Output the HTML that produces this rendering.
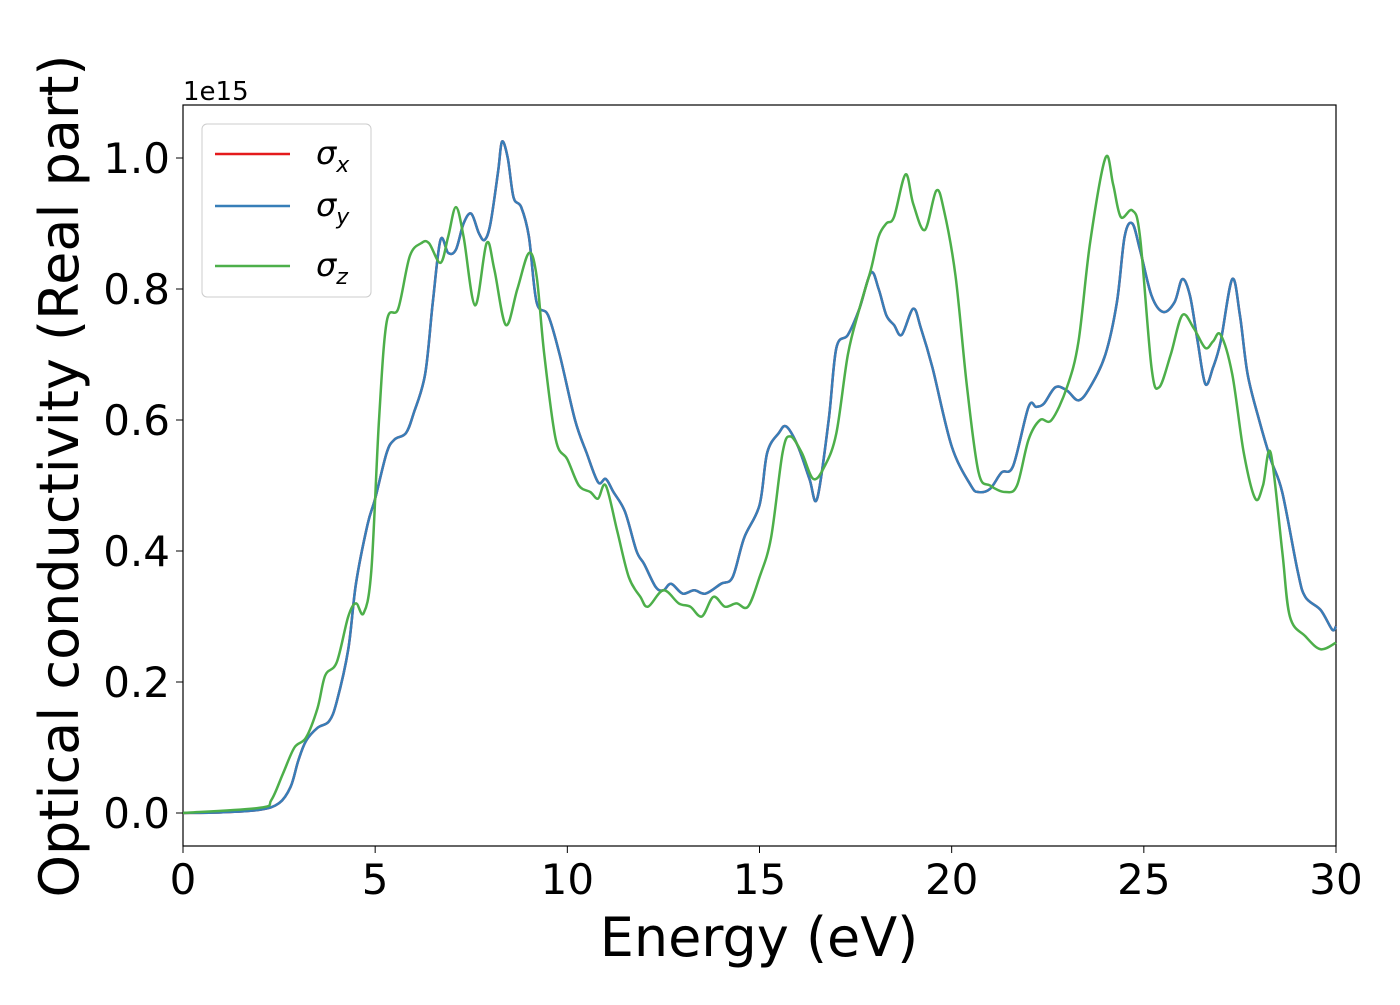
<!DOCTYPE html>
<html><head><meta charset="utf-8"><style>
body{margin:0;background:#fff}
svg{font-family:"DejaVu Sans","Liberation Sans",sans-serif}
</style></head><body>
<svg id="chart" width="1400" height="1000" viewBox="0 0 1400 1000">
<rect x="183" y="105" width="1153" height="741" fill="#fff" stroke="#000" stroke-width="1.2"/>
<g id="xt"></g>
<g id="yt"></g>
<g id="lines"></g>
<text x="183" y="100" font-size="26">1e15</text>
<text x="759" y="956" font-size="54" text-anchor="middle">Energy (eV)</text>
<text transform="translate(78,476) rotate(-90)" font-size="54" text-anchor="middle">Optical conductivity (Real part)</text>
<g>
<rect x="202" y="124" width="169" height="173" rx="5" fill="#fff" fill-opacity="0.8" stroke="#ccc"/>
<line x1="215" y1="154" x2="290" y2="154" stroke="#e41a1c" stroke-width="2.5"/>
<text x="316" y="164" font-size="32" font-style="italic">σ<tspan font-size="22" dy="8">x</tspan></text>
<line x1="215" y1="206" x2="290" y2="206" stroke="#377eb8" stroke-width="2.5"/>
<text x="316" y="216" font-size="32" font-style="italic">σ<tspan font-size="22" dy="8">y</tspan></text>
<line x1="215" y1="266" x2="290" y2="266" stroke="#4daf4a" stroke-width="2.5"/>
<text x="316" y="276" font-size="32" font-style="italic">σ<tspan font-size="22" dy="8">z</tspan></text>
</g>
</svg>
<script>
const xTicks=[0,5,10,15,20,25,30];
const yTicks=[0.0,0.2,0.4,0.6,0.8,1.0];
const xyE=[0,1,2,2.5,2.8,3.0,3.2,3.5,3.8,4.0,4.3,4.5,4.8,5.0,5.3,5.5,5.8,6.0,6.3,6.5,6.7,6.9,7.1,7.3,7.5,7.7,7.85,8.0,8.2,8.3,8.45,8.6,8.8,9.0,9.2,9.5,9.8,10.2,10.5,10.8,11.0,11.2,11.5,11.8,12.0,12.3,12.5,12.7,13.0,13.3,13.6,14.0,14.3,14.6,15.0,15.2,15.5,15.7,16.0,16.3,16.5,16.8,17.0,17.3,17.6,17.9,18.1,18.3,18.5,18.7,19.0,19.2,19.5,20.0,20.5,20.7,21.0,21.3,21.6,22.0,22.2,22.4,22.7,23.0,23.3,23.6,24.0,24.3,24.5,24.7,24.9,25.2,25.5,25.8,26.0,26.2,26.4,26.6,26.8,27.0,27.3,27.5,27.7,28.0,28.3,28.6,29.0,29.2,29.6,29.9,30];
const sigmaY=[0,0.001,0.005,0.015,0.04,0.08,0.11,0.13,0.14,0.17,0.25,0.35,0.44,0.48,0.55,0.57,0.58,0.61,0.67,0.78,0.875,0.855,0.86,0.9,0.915,0.885,0.875,0.9,0.98,1.025,1.0,0.94,0.925,0.88,0.78,0.76,0.7,0.6,0.55,0.505,0.51,0.49,0.46,0.4,0.38,0.345,0.34,0.35,0.335,0.34,0.335,0.35,0.36,0.42,0.47,0.55,0.58,0.59,0.56,0.51,0.48,0.6,0.71,0.73,0.77,0.825,0.8,0.76,0.745,0.73,0.77,0.74,0.68,0.56,0.5,0.49,0.495,0.52,0.53,0.62,0.62,0.625,0.65,0.645,0.63,0.65,0.7,0.78,0.88,0.9,0.86,0.79,0.765,0.78,0.815,0.79,0.72,0.655,0.68,0.72,0.815,0.76,0.67,0.6,0.54,0.49,0.37,0.33,0.31,0.28,0.285];
const sigmaX=sigmaY.slice();
const zE=[0,2,2.3,2.6,2.9,3.2,3.5,3.7,4.0,4.3,4.5,4.7,4.9,5.1,5.3,5.6,5.9,6.2,6.4,6.7,6.9,7.1,7.3,7.6,7.9,8.1,8.4,8.7,9.0,9.2,9.4,9.7,10.0,10.3,10.6,10.8,11.0,11.3,11.6,11.9,12.1,12.5,12.9,13.2,13.5,13.8,14.1,14.4,14.7,15.0,15.3,15.6,15.8,16.1,16.4,16.7,17.0,17.3,17.6,17.9,18.1,18.3,18.5,18.8,19.0,19.3,19.6,19.8,20.1,20.4,20.7,21.0,21.4,21.7,22.0,22.3,22.6,23.0,23.3,23.6,24.0,24.2,24.4,24.7,24.9,25.2,25.4,25.7,26.0,26.3,26.6,26.8,27.0,27.3,27.6,27.9,28.1,28.3,28.6,28.8,29.2,29.6,30];
const sigmaZ=[0,0.008,0.02,0.06,0.1,0.115,0.16,0.21,0.23,0.3,0.32,0.305,0.37,0.6,0.75,0.77,0.85,0.87,0.87,0.84,0.88,0.925,0.88,0.775,0.87,0.83,0.745,0.8,0.855,0.82,0.7,0.57,0.54,0.5,0.49,0.48,0.5,0.43,0.36,0.33,0.315,0.34,0.32,0.315,0.3,0.33,0.315,0.32,0.315,0.36,0.42,0.55,0.575,0.55,0.51,0.53,0.58,0.7,0.77,0.83,0.88,0.9,0.91,0.975,0.93,0.89,0.95,0.92,0.82,0.65,0.52,0.5,0.49,0.5,0.57,0.6,0.6,0.65,0.72,0.87,1.0,0.96,0.91,0.92,0.88,0.68,0.65,0.7,0.76,0.74,0.71,0.72,0.73,0.67,0.55,0.48,0.5,0.55,0.4,0.3,0.27,0.25,0.26];
const X=v=>183+v*(1153/30);
const Y=v=>813-v*655;
const NS="http://www.w3.org/2000/svg";
const xt=document.getElementById('xt'),yt=document.getElementById('yt'),lg=document.getElementById('lines');
xTicks.forEach(t=>{
 const l=document.createElementNS(NS,'line');l.setAttribute('x1',X(t));l.setAttribute('x2',X(t));l.setAttribute('y1',846);l.setAttribute('y2',853);l.setAttribute('stroke','#000');
 
 
 xt.appendChild(l);
 const s=document.createElementNS(NS,'text');s.setAttribute('x',X(t));s.setAttribute('y',894);s.setAttribute('font-size','42');s.setAttribute('text-anchor','middle');s.textContent=t;
 
 
 xt.appendChild(s);
});
yTicks.forEach(t=>{
 const l=document.createElementNS(NS,'line');l.setAttribute('x1',176);l.setAttribute('x2',183);l.setAttribute('y1',Y(t));l.setAttribute('y2',Y(t));l.setAttribute('stroke','#000');
 
 
 yt.appendChild(l);
 const s=document.createElementNS(NS,'text');s.setAttribute('x',170);s.setAttribute('y',Y(t)+15);s.setAttribute('font-size','42');s.setAttribute('text-anchor','end');s.textContent=t.toFixed(1);
 
 
 yt.appendChild(s);
});
function path(xs,ys){
 const p=xs.map((e,i)=>[X(e),Y(ys[i])]);
 let d='M'+p[0][0]+','+p[0][1];
 for(let i=0;i<p.length-1;i++){
  const p0=p[Math.max(0,i-1)],p1=p[i],p2=p[i+1],p3=p[Math.min(p.length-1,i+2)];
  const c1x=p1[0]+(p2[0]-p0[0])/6,c1y=p1[1]+(p2[1]-p0[1])/6;
  const c2x=p2[0]-(p3[0]-p1[0])/6,c2y=p2[1]-(p3[1]-p1[1])/6;
  d+=`C${c1x},${c1y} ${c2x},${c2y} ${p2[0]},${p2[1]}`;
 }
 return d;
}
[[xyE,sigmaX,'#e41a1c','series-sigma-x'],[xyE,sigmaY,'#377eb8','series-sigma-y'],[zE,sigmaZ,'#4daf4a','series-sigma-z']].forEach(s=>{
 const el=document.createElementNS(NS,'path');
 el.setAttribute('d',path(s[0],s[1]));el.setAttribute('fill','none');el.setAttribute('stroke',s[2]);el.setAttribute('stroke-width','2.5');
 
 
 lg.appendChild(el);
});
</script>
</body></html>
